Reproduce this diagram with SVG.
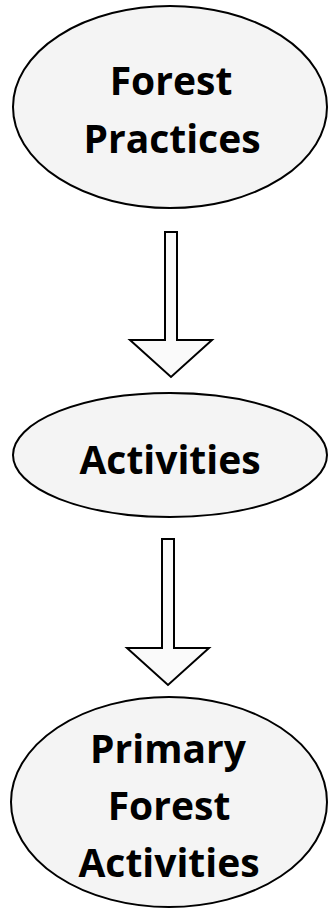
<svg xmlns="http://www.w3.org/2000/svg" width="328" height="911" viewBox="0 0 328 911">
<style>
.node{fill:#f4f4f4;stroke:#000;stroke-width:2}
.arrow{fill:#fafafa;stroke:#000;stroke-width:2;stroke-linejoin:miter}
.label{font-family:"Open Sans","Noto Sans","Liberation Sans",sans-serif;font-weight:bold;font-size:39px;fill:#000;text-anchor:middle}
</style>
<rect width="328" height="911" fill="#fff"/>
<g id="connectors">
<path class="arrow" d="M165 232 H177 V340 H212 L171 377 L130 340 H165 Z"/>
<path class="arrow" d="M162 539 H174 V648 H209 L168 685 L127 648 H162 Z"/>
</g>
<g id="forest-practices">
<ellipse class="node" cx="170" cy="107" rx="157" ry="101"/>
<text class="label" x="171" y="95">Forest</text>
<text class="label" x="172" y="153">Practices</text>
</g>
<g id="activities">
<ellipse class="node" cx="170" cy="455" rx="157" ry="62"/>
<text class="label" x="170" y="474">Activities</text>
</g>
<g id="primary-forest-activities">
<ellipse class="node" cx="169" cy="802" rx="158" ry="105"/>
<text class="label" x="168" y="763">Primary</text>
<text class="label" x="169" y="820">Forest</text>
<text class="label" x="169" y="877">Activities</text>
</g>
</svg>
